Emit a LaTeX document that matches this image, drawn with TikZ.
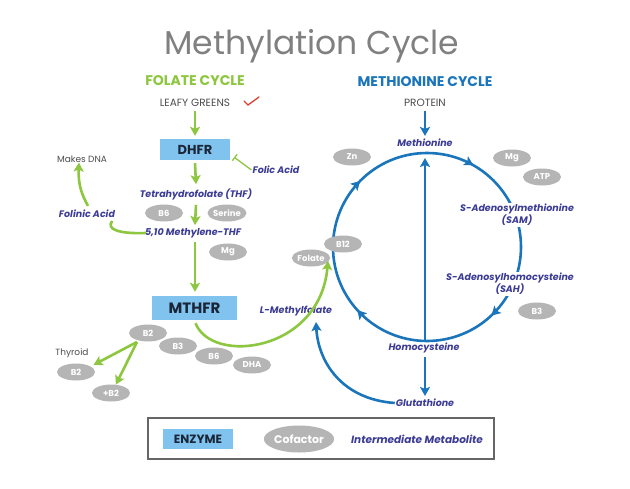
\documentclass[tikz,border=0pt]{standalone}
\usepackage{fontspec}
\setmainfont{Poppins}
\usetikzlibrary{shapes.geometric,arrows.meta,calc,decorations.markings}
\definecolor{fgreen}{HTML}{8DC63F}
\definecolor{mblue}{HTML}{1B75BB}
\definecolor{navy}{HTML}{3C3C96}
\definecolor{cofgray}{HTML}{B5B5B5}
\definecolor{enzblue}{HTML}{80C3EE}
\definecolor{enztext}{HTML}{1A2638}
\definecolor{titlegray}{HTML}{808080}
\definecolor{smallgray}{HTML}{4D4D4D}
\definecolor{checkred}{HTML}{E0402F}
\begin{document}
\begin{tikzpicture}[x=1pt,y=-1pt,
  ell/.style={ellipse, fill=cofgray, text=white, minimum width=38pt, minimum height=17pt, inner sep=0pt, font=\fontsize{8.5}{8.5}\selectfont\bfseries},
  met/.style={text=navy, font=\fontsize{9.5}{11}\selectfont\bfseries\itshape, align=center, inner sep=1pt},
  enzbox/.style={fill=enzblue, text=enztext, inner sep=0pt},
  small/.style={text=smallgray, font=\fontsize{9}{9}\selectfont, inner sep=1pt},
  tip/.style={-{Stealth[length=9pt,width=10pt,inset=2pt]}},
  gline/.style={draw=fgreen, line width=2.6pt},
  bline/.style={draw=mblue, line width=2.6pt},
  garr/.style={gline, tip},
  barr/.style={bline, tip},
]
\useasboundingbox (0,0) rectangle (630,488);
\fill[white] (0,0) rectangle (630,488);

% titles
\node[text=titlegray, font=\fontsize{33}{33}\selectfont] (title) at (312,46) {Methylation Cycle};
\node[text=fgreen, font=\fontsize{14}{14}\selectfont\bfseries] (fc) at (195,81) {FOLATE CYCLE};
\node[text=mblue, font=\fontsize{14}{14}\selectfont\bfseries] (mc) at (425,82) {METHIONINE CYCLE};

% folate cycle
\node[small, font=\fontsize{10.5}{10.5}\selectfont] (leafy) at (195,103) {LEAFY GREENS};
\draw[checkred, line width=1.3pt, line cap=round] (244,101) -- (248,105) -- (259,97);
\node[enzbox, minimum width=70pt, minimum height=21pt, font=\fontsize{13}{13}\selectfont\bfseries] (dhfr) at (195,149.5) {DHFR};
\node[met] (folic) at (276,170) {Folic Acid};
\node[met] (thf) at (196,194) {Tetrahydrofolate (THF)};
\node[ell] (b6a) at (164,213) {B6};
\node[ell] (serine) at (227,213) {Serine};
\node[met] (meththf) at (193,233) {5,10 Methylene-THF};
\node[ell] (mga) at (228,252) {Mg};
\node[enzbox, minimum width=85pt, minimum height=24pt, font=\fontsize{15}{15}\selectfont\bfseries] (mthfr) at (194.5,308) {MTHFR};
\node[small] (dna) at (82,159) {Makes DNA};
\node[met] (folinic) at (87,214) {Folinic Acid};
\node[ell] (b2a) at (148,333) {B2};
\node[ell] (b3a) at (178,346) {B3};
\node[ell] (b6b) at (214,356) {B6};
\node[ell] (dha) at (252,365) {DHA};
\node[small] (thyroid) at (72,353) {Thyroid};
\node[ell] (b2b) at (76,372) {B2};
\node[ell] (pb2) at (111,393) {+B2};

\draw[garr] ($(leafy.south)+(0,3)$) -- ($(dhfr.north)+(0,-3)$);
\draw[garr] ($(dhfr.south)+(0,3)$) -- ($(thf.north)+(0,-3)$);
\draw[garr] ($(thf.south)+(0,4)$) -- ($(meththf.north)+(2,-2)$);
\draw[garr] ($(meththf.south)+(2,3)$) -- ($(mthfr.north)+(0.5,-4)$);
\draw[draw=fgreen, line width=1.3pt, -{Bar[width=8pt]}] (folic.west) -- ($(dhfr.south east)+(4,-3)$);
\draw[gline] ($(meththf.west)+(2,0)$) .. controls (118,234) and (106,229) .. ($(folinic.east)+(-4,7)$);
\draw[garr] ($(folinic.north)+(1,-3)$) .. controls (82,195) and (78,185) .. ($(dna.south)+(-3,-1)$);
\coordinate (b2src) at (137,342);
\draw[garr] (b2src) -- ($(b2b.north east)+(4,-1)$);
\draw[garr] (b2src) -- (pb2.60);

% methionine cycle
\coordinate (C) at (427,247);
\draw[bline, postaction={decorate}, decoration={markings,
   mark=at position 0.082 with {\arrow{Stealth[length=9pt,width=10pt,inset=2pt]}},
   mark=at position 0.38 with {\arrow{Stealth[length=9pt,width=10pt,inset=2pt]}},
   mark=at position 0.633 with {\arrow{Stealth[length=9pt,width=10pt,inset=2pt]}},
   mark=at position 0.874 with {\arrow{Stealth[length=9pt,width=10pt,inset=2pt]}}}]
   ($(C)+(90:94pt)$) arc[start angle=90, end angle=-270, radius=94pt];

\node[small, font=\fontsize{10.5}{10.5}\selectfont] (protein) at (425,103) {PROTEIN};
\node[met] (methionine) at (425,143) {Methionine};
\node[met, fill=white] (sam) at (517,215) {S-Adenosylmethionine\\(SAM)};
\node[met, fill=white] (sah) at (510,284) {S-Adenosylhomocysteine\\(SAH)};
\node[met] (homo) at (424,348) {Homocysteine};
\node[met] (glut) at (425,403) {Glutathione};
\node[ell] (zn) at (352,157) {Zn};
\node[ell] (mgb) at (512,158) {Mg};
\node[ell] (atp) at (542,177) {ATP};
\node[ell] (b12) at (343,244) {B12};
\node[ell] (folate) at (311,258) {Folate};
\node[ell] (b3b) at (537,311) {B3};
\node[met] (lmf) at (296,311) {L-Methylfolate};

\draw[barr] ($(protein.south)+(0,3)$) -- ($(methionine.north)+(0,-2)$);
\draw[barr] ($(homo.north)+(1,-1)$) -- (425,158);
\draw[barr] ($(homo.south)+(1,3)$) -- ($(glut.north)+(0,-2)$);
\coordinate (gend) at (316,322);
\draw[barr] (glut.west) .. controls (340,399) and (318,360) .. (gend);
\coordinate (gtip) at (328,261);
\draw[garr] ($(mthfr.south)+(1,3)$) .. controls (212,365) and (320,352) .. (gtip);

% legend
\node[draw=black!60, line width=1.2pt, minimum width=346pt, minimum height=41pt, inner sep=0pt] (legend) at (321,438.5) {};
\node[enzbox, minimum width=70pt, minimum height=20pt, font=\fontsize{12}{12}\selectfont\bfseries] (lenz) at (198,439) {ENZYME};
\node[ell, minimum width=62pt, minimum height=27pt, font=\fontsize{11}{11}\selectfont\bfseries] (lcof) at (299,439) {Cofactor};
\node[met, font=\fontsize{10.5}{11}\selectfont\bfseries\itshape] (lmet) at (417,439) {Intermediate Metabolite};
\end{tikzpicture}
\end{document}
